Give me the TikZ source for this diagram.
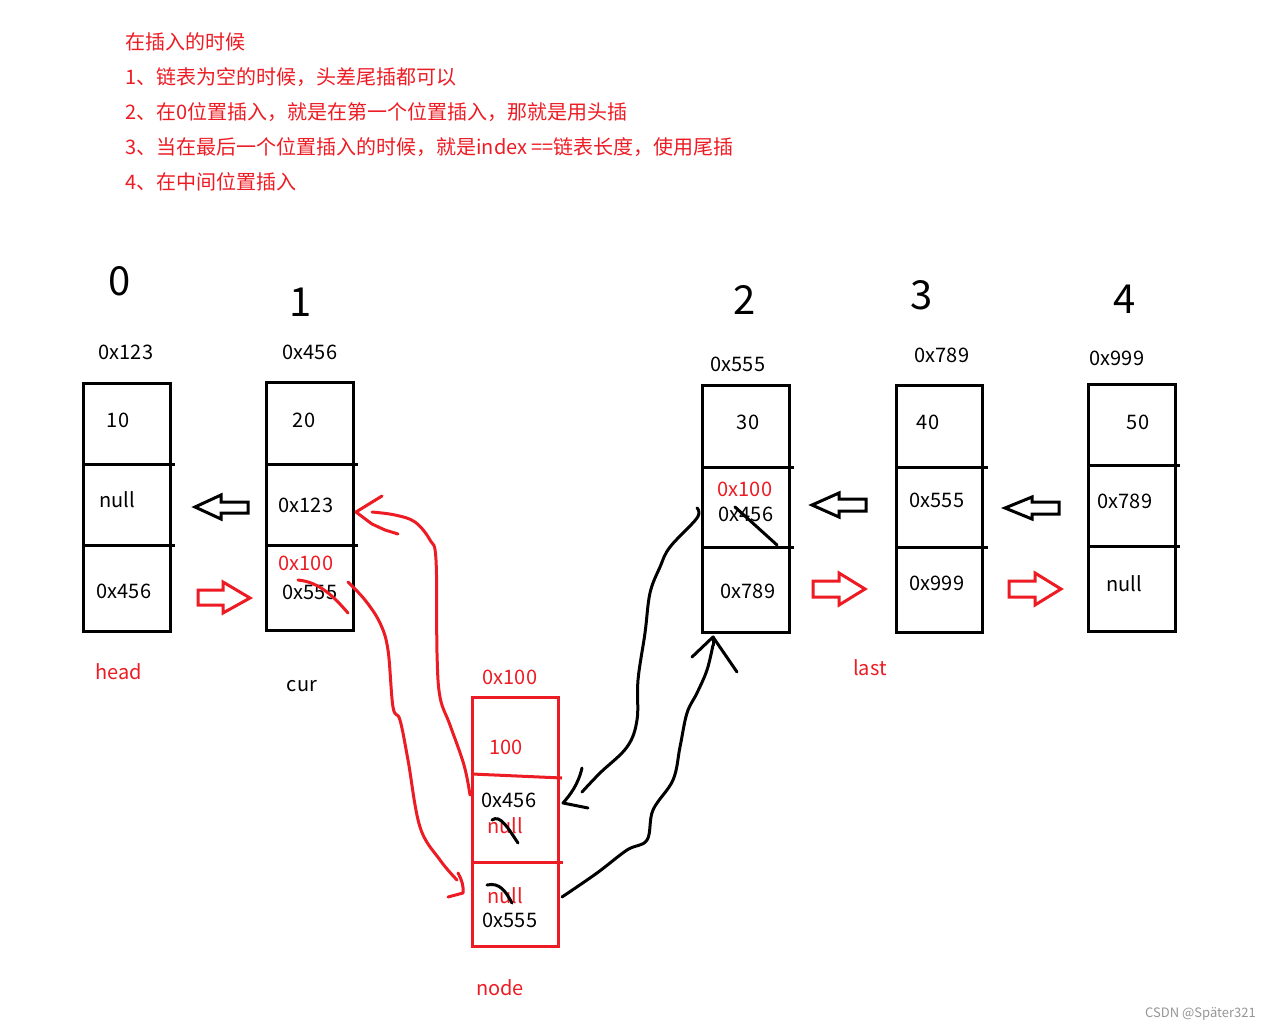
\documentclass[tikz,border=0pt]{standalone}
\usepackage{fontspec}
\setmainfont{Noto Sans CJK SC}
\definecolor{pred}{RGB}{237,28,36}
\definecolor{wm}{RGB}{150,150,150}
\begin{document}
\begin{tikzpicture}[x=1pt,y=-1pt,
  box/.style={line width=3pt},
  hand/.style={line width=3pt,line cap=round,line join=round},
  blk/.style={line width=3pt,line join=miter},
  lbl/.style={font=\fontsize{20}{24}\selectfont,inner sep=0pt,text height=14pt,text depth=0pt},
  idx/.style={font=\fontsize{40}{44}\selectfont,inner sep=0pt,text height=29pt,text depth=0pt},
  head/.style={lbl,anchor=west,text=pred}]
\useasboundingbox[fill=white] (0,0) rectangle (1272,1031);

% ---------- heading text ----------
\node[head] (t0) at (125,42) {在插入的时候};
\node[head] (t1) at (125,77) {1、链表为空的时候，头差尾插都可以};
\node[head] (t2) at (125,112) {2、在0位置插入，就是在第一个位置插入，那就是用头插};
\node[head] (t3) at (125,147) {3、当在最后一个位置插入的时候，就是index ==链表长度，使用尾插};
\node[head] (t4) at (125,182) {4、在中间位置插入};

% ---------- index numbers ----------
\node[idx] (i0) at (120,281) {0};
\node[idx] (i1) at (301,302) {1};
\node[idx] (i2) at (745,300) {2};
\node[idx] (i3) at (922,295) {3};
\node[idx] (i4) at (1125,299) {4};

% ---------- addresses ----------
\node[lbl] (a0) at (126,352) {0x123};
\node[lbl] (a1) at (310,352) {0x456};
\node[lbl] (a2) at (738,364) {0x555};
\node[lbl] (a3) at (942,355) {0x789};
\node[lbl] (a4) at (1117,358) {0x999};
\node[lbl,text=pred] (an) at (510,677) {0x100};

% ---------- boxes ----------
% node 0
\draw[box] (83,383) rectangle (170,631);
\draw[box] (83,464) -- (175,464);
\draw[box] (83,545) -- (175,545);
% node 1
\draw[box] (266,382) rectangle (353,630);
\draw[box] (266,464) -- (358,464);
\draw[box] (266,545) -- (358,545);
% node 2
\draw[box] (702,385) rectangle (789,632);
\draw[box] (702,467) -- (794,467);
\draw[box] (702,547) -- (794,547);
% node 3
\draw[box] (896,385) rectangle (982,632);
\draw[box] (896,467) -- (988,467);
\draw[box] (896,547) -- (988,547);
% node 4
\draw[box] (1088,384) rectangle (1175,631);
\draw[box] (1088,465) -- (1180,465);
\draw[box] (1088,546) -- (1180,546);
% new node (red)
\draw[box,pred] (472,697) rectangle (558,946);
\draw[box,pred] (472,774) -- (562,778);
\draw[box,pred] (472,862) -- (563,862);

% ---------- box contents ----------
\node[lbl] (n0v) at (118,420) {10};
\node[lbl] (n0p) at (117,500) {null};
\node[lbl] (n0n) at (124,591) {0x456};

\node[lbl] (n1v) at (304,420) {20};
\node[lbl] (n1p) at (306,505) {0x123};
\node[lbl,text=pred] (n1r) at (306,563) {0x100};
\node[lbl] (n1n) at (310,592) {0x555};

\node[lbl] (n2v) at (748,422) {30};
\node[lbl,text=pred] (n2r) at (745,489) {0x100};
\node[lbl] (n2p) at (746,514) {0x456};
\node[lbl] (n2n) at (748,591) {0x789};

\node[lbl] (n3v) at (928,422) {40};
\node[lbl] (n3p) at (937,500) {0x555};
\node[lbl] (n3n) at (937,583) {0x999};

\node[lbl] (n4v) at (1138,422) {50};
\node[lbl] (n4p) at (1125,501) {0x789};
\node[lbl] (n4n) at (1124,584) {null};

\node[lbl,text=pred] (nnv) at (506,747) {100};
\node[lbl] (nnp) at (509,800) {0x456};
\node[lbl,text=pred] (nnp0) at (505,826) {null};
\node[lbl,text=pred] (nnn0) at (505,896) {null};
\node[lbl] (nnn) at (510,920) {0x555};

% ---------- name labels ----------
\node[lbl,text=pred] (lh) at (119,672) {head};
\node[lbl] (lc) at (302,684) {cur};
\node[lbl,text=pred] (ll) at (870,668) {last};
\node[lbl,text=pred] (ln) at (500,988) {node};

% ---------- hollow block arrows ----------
\draw[blk] (195,507) -- (221,495) -- (221,502) -- (248,502) -- (248,513) -- (221,513) -- (221,519) -- cycle;
\draw[blk] (812,505) -- (839,493) -- (839,499) -- (866,499) -- (866,511) -- (839,511) -- (839,517) -- cycle;
\draw[blk] (1005,508) -- (1032,497) -- (1032,502) -- (1059,502) -- (1059,514) -- (1032,514) -- (1032,519) -- cycle;
\draw[blk,pred] (198,590) -- (223,590) -- (223,582) -- (250,598) -- (223,613) -- (223,605) -- (198,605) -- cycle;
\draw[blk,pred] (813,581) -- (839,581) -- (839,573) -- (865,589) -- (839,605) -- (839,597) -- (813,597) -- cycle;
\draw[blk,pred] (1009,581) -- (1035,581) -- (1035,573) -- (1061,589) -- (1035,605) -- (1035,597) -- (1009,597) -- cycle;

% ---------- strike-outs ----------
\draw[hand,pred] (298,580) .. controls (320,582) and (335,598) .. (348,613);
\draw[hand] (735,507) -- (777,545);
\draw[hand] (492,820) .. controls (500,814) and (508,828) .. (518,843);
\draw[hand] (487,885) .. controls (500,882) and (506,892) .. (512,903);

% ---------- hand-drawn red connectors ----------
\coordinate (r1s) at (470,795);
\coordinate (r1e) at (356,512);
\draw[hand,pred] plot[smooth,tension=0.6] coordinates {(r1s) (464,765) (450,725) (440,697) (437,653) (436,560) (430,540) (415,522) (395,515) (372,512)};
\draw[hand,pred] (382,496) -- (r1e) -- (372,524) -- (385,530) -- (398,534);

\coordinate (r2s) at (348,582);
\coordinate (r2e) at (463,893);
\draw[hand,pred] plot[smooth,tension=0.6] coordinates {(r2s) (365,600) (380,623) (388,650) (393,707) (400,720) (408,760) (420,827) (440,860) (457,880)};
\draw[hand,pred] (458,873) .. controls (462,880) and (464,888) .. (r2e) -- (448,897);

% ---------- hand-drawn black connectors ----------
\coordinate (b1s) at (697,508);
\coordinate (b1e) at (563,803);
\draw[hand] plot[smooth,tension=0.6] coordinates {(b1s) (697,518) (670,547) (660,567) (650,593) (645,633) (638,680) (637,720) (627,747) (600,773) (582,792)};
\draw[hand] (582,768) .. controls (578,785) and (570,795) .. (b1e) -- (588,808);

\coordinate (b2s) at (562,897);
\coordinate (b2e) at (713,637);
\draw[hand] plot[smooth,tension=0.6] coordinates {(b2s) (597,873) (627,850) (647,840) (653,810) (673,780) (680,747) (687,713) (697,693) (707,670) (713,645)};
\draw[hand] (692,657) -- (b2e) -- (737,672);
\draw[hand] (b2e) -- (713,645);

% ---------- watermark ----------
\node[font=\fontsize{13}{15}\selectfont,text=wm,anchor=east,inner sep=0pt] (wmk) at (1256,1014) {CSDN @Später321};
\end{tikzpicture}
\end{document}
